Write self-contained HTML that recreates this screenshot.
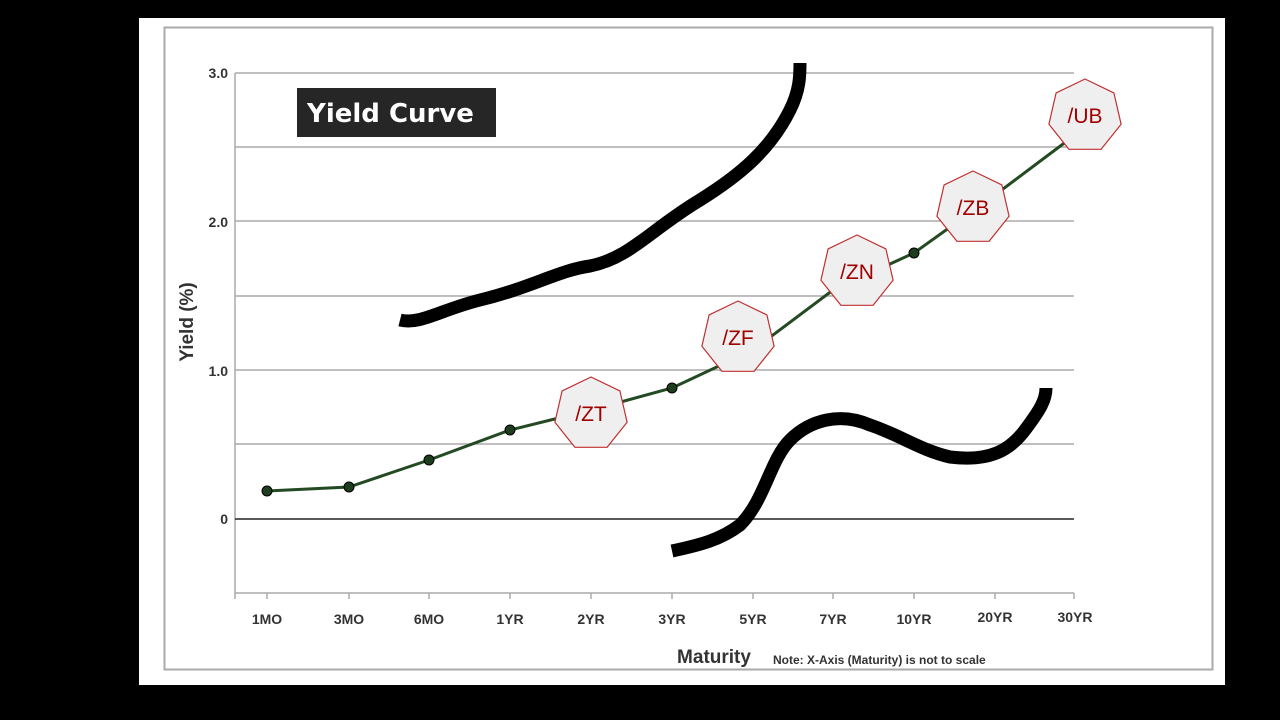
<!DOCTYPE html>
<html><head><style>
body{margin:0;background:#000;width:1280px;height:720px;overflow:hidden;font-family:"Liberation Sans",sans-serif}
</style></head><body>
<svg width="1280" height="720" xmlns="http://www.w3.org/2000/svg" style="position:absolute;left:0;top:0">
<defs>
<polygon id="hep" points="0,-37 28.9,-23.1 36.1,8.2 16.1,33.3 -16.1,33.3 -36.1,8.2 -28.9,-23.1" fill="#efefef" stroke="#c03030" stroke-width="1.2"/>
</defs>
<rect x="0" y="0" width="1280" height="720" fill="#000"/>
<rect x="139" y="18" width="1086" height="667" fill="#fff"/>
<rect x="164.5" y="27.5" width="1048" height="642" fill="#fff" stroke="#aaa" stroke-width="2"/>
<g stroke="#aaa" stroke-width="1.5">
<line x1="235" y1="73" x2="1074" y2="73"/>
<line x1="235" y1="147" x2="1074" y2="147"/>
<line x1="235" y1="221" x2="1074" y2="221"/>
<line x1="235" y1="296" x2="1074" y2="296"/>
<line x1="235" y1="370" x2="1074" y2="370"/>
<line x1="235" y1="444" x2="1074" y2="444"/>
<line x1="235" y1="593" x2="1074" y2="593"/>
<line x1="235" y1="73" x2="235" y2="599"/>
<line x1="267" y1="593" x2="267" y2="599"/><line x1="349" y1="593" x2="349" y2="599"/><line x1="429" y1="593" x2="429" y2="599"/><line x1="510" y1="593" x2="510" y2="599"/><line x1="591" y1="593" x2="591" y2="599"/><line x1="672" y1="593" x2="672" y2="599"/><line x1="753" y1="593" x2="753" y2="599"/><line x1="833" y1="593" x2="833" y2="599"/><line x1="914" y1="593" x2="914" y2="599"/><line x1="995" y1="593" x2="995" y2="599"/><line x1="1074" y1="593" x2="1074" y2="599"/>
</g>
<line x1="235" y1="519" x2="1074" y2="519" stroke="#222" stroke-width="1.5"/>
<g font-weight="bold" font-size="14" fill="#333" text-anchor="end">
<text x="228" y="78">3.0</text><text x="228" y="227">2.0</text><text x="228" y="376">1.0</text><text x="228" y="524">0</text>
</g>
<g font-weight="bold" font-size="14" fill="#333" text-anchor="middle">
<text x="267" y="624">1MO</text><text x="349" y="624">3MO</text><text x="429" y="624">6MO</text><text x="510" y="624">1YR</text><text x="591" y="624">2YR</text><text x="672" y="624">3YR</text><text x="753" y="624">5YR</text><text x="833" y="624">7YR</text><text x="914" y="624">10YR</text><text x="995" y="622">20YR</text><text x="1075" y="622">30YR</text>
</g>
<text x="714" y="663" font-weight="bold" font-size="19" fill="#333" text-anchor="middle">Maturity</text>
<text x="773" y="664" font-weight="bold" font-size="12" fill="#333">Note: X-Axis (Maturity) is not to scale</text>
<text transform="translate(193,322) rotate(-90)" font-weight="bold" font-size="19" fill="#333" text-anchor="middle">Yield (%)</text>
<rect x="297" y="88" width="199" height="49" fill="#262626"/>
<text x="307" y="122" font-weight="bold" font-size="26" fill="#fff" font-family="'DejaVu Sans',sans-serif">Yield Curve</text>
<polyline fill="none" stroke="#234a23" stroke-width="3" points="267,491 349,487 429,460 510,430 591,410 672,388 753,350 833,290 914,253 995,195 1075,135"/>
<g fill="#1e3d1e" stroke="#000" stroke-width="1">
<circle cx="267" cy="491" r="5"/><circle cx="349" cy="487" r="5"/><circle cx="429" cy="460" r="5"/><circle cx="510" cy="430" r="5"/><circle cx="672" cy="388" r="5"/><circle cx="914" cy="253" r="5"/>
</g>
<g fill="none" stroke="#000" stroke-width="13" stroke-linecap="butt" stroke-linejoin="round">
<path d="M400,320 C420,325 440,310 480,300 C530,288 560,270 590,266 C630,258 650,230 700,200 C740,175 770,150 790,110 C800,90 800,75 800,63"/>
<path d="M672,551 C700,545 720,540 740,525 C765,500 770,460 790,440 C810,420 840,412 870,425 C900,435 920,450 950,457 C990,462 1010,450 1025,430 C1040,410 1046,400 1046,388"/>
</g>
<g font-size="21" fill="#a00000" text-anchor="middle">
<g transform="translate(591,414)"><use href="#hep"/><text y="7">/ZT</text></g>
<g transform="translate(738,338)"><use href="#hep"/><text y="7">/ZF</text></g>
<g transform="translate(857,272)"><use href="#hep"/><text y="7">/ZN</text></g>
<g transform="translate(973,208)"><use href="#hep"/><text y="7">/ZB</text></g>
<g transform="translate(1085,116)"><use href="#hep"/><text y="7">/UB</text></g>
</g>
</svg>
</body></html>
